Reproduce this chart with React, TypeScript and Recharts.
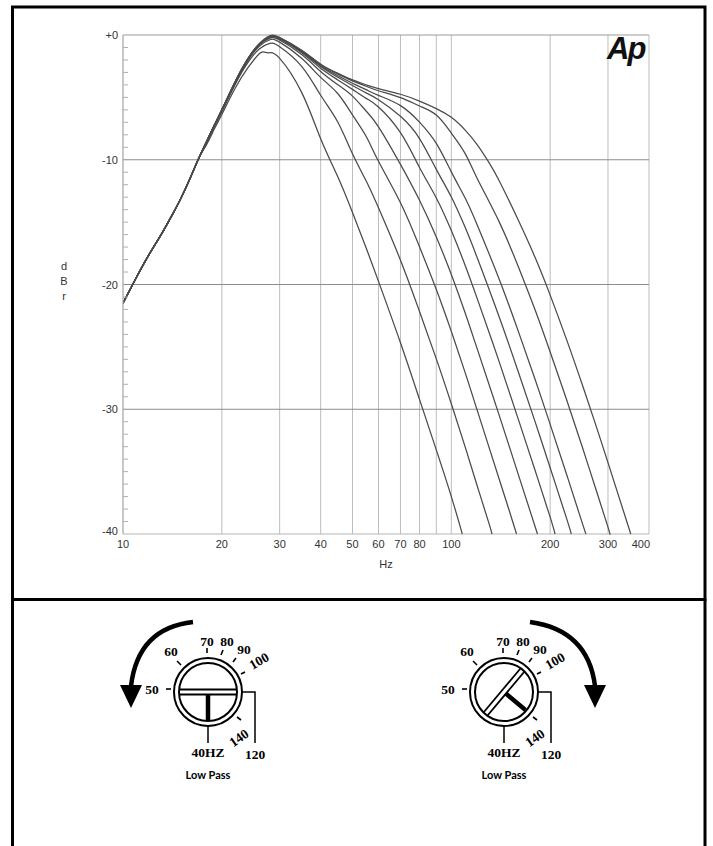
import { LineChart, Line, XAxis, YAxis, CartesianGrid, ReferenceLine, Label } from "recharts"

// shared rising slope below ~18 Hz (all settings overlap here)
const RISE: [number, number][] = [
  [10, -21.5], [11, -19.4], [12, -17.6], [13, -16.1], [14, -14.6], [15, -13.1], [16, -11.5], [17, -9.9],
]

// [Hz, dBr] per low pass setting
const LP_40: [number, number][] = [
  [18, -8.75], [19, -7.5], [20, -6.37], [22, -4.23], [24, -2.64], [26, -1.5], [27, -1.38], [28, -1.42],
  [30, -1.87], [35, -4.6], [40, -8.32], [45, -11.31], [50, -14.23], [55, -17.06], [60, -19.75],
  [70, -24.67], [80, -29.21], [90, -33.26], [100, -37.0], [108, -40],
]
const LP_50: [number, number][] = [
  [18, -8.6], [19, -7.3], [20, -6.15], [22, -3.92], [24, -2.21], [26, -1.13], [28, -0.67], [30, -0.94],
  [35, -2.51], [40, -4.83], [45, -6.94], [50, -9.52], [55, -11.68], [60, -13.85], [70, -18.05],
  [80, -22.16], [90, -25.96], [100, -29.56], [110, -32.96], [120, -36.17], [130, -39.09], [133, -40],
]
const LP_60: [number, number][] = [
  [18, -8.55], [19, -7.25], [20, -6.07], [22, -3.81], [24, -2.05], [26, -0.91], [28, -0.38], [30, -0.57],
  [35, -1.87], [40, -3.4], [45, -4.67], [50, -6.4], [55, -8.12], [60, -10.12], [70, -13.45],
  [80, -16.98], [90, -20.4], [100, -23.76], [110, -27.0], [120, -30.11], [140, -35.63], [150, -38.1],
  [158, -40],
]
const LP_70: [number, number][] = [
  [18, -8.5], [19, -7.2], [20, -6.04], [22, -3.76], [24, -1.98], [26, -0.81], [28, -0.25], [30, -0.4],
  [35, -1.57], [40, -2.92], [45, -3.96], [50, -4.9], [55, -6.09], [60, -7.36], [70, -10.37],
  [80, -13.25], [90, -16.19], [100, -19.2], [110, -22.22], [120, -25.18], [140, -30.51], [160, -35.24],
  [183, -40],
]
const LP_80: [number, number][] = [
  [18, -8.5], [19, -7.2], [20, -6.02], [22, -3.73], [24, -1.95], [26, -0.77], [28, -0.19], [30, -0.32],
  [35, -1.42], [40, -2.67], [45, -3.58], [50, -4.36], [55, -5.08], [60, -5.77], [70, -7.83],
  [80, -10.62], [90, -13.06], [100, -15.68], [110, -18.41], [120, -21.15], [140, -26.22], [160, -30.81],
  [180, -34.91], [200, -38.65], [207, -40],
]
const LP_90: [number, number][] = [
  [18, -8.5], [19, -7.2], [20, -6.0], [22, -3.72], [24, -1.93], [26, -0.74], [28, -0.16], [30, -0.27],
  [35, -1.34], [40, -2.53], [45, -3.37], [50, -4.05], [55, -4.64], [60, -5.19], [70, -6.52],
  [80, -8.3], [90, -10.77], [100, -12.99], [110, -15.38], [120, -17.88], [140, -22.63], [160, -27.02],
  [180, -31.01], [200, -34.69], [225, -38.85], [232, -40],
]
const LP_100: [number, number][] = [
  [18, -8.5], [19, -7.2], [20, -6.0], [22, -3.7], [24, -1.92], [26, -0.73], [28, -0.14], [30, -0.25],
  [35, -1.29], [40, -2.45], [45, -3.25], [50, -3.87], [55, -4.38], [60, -4.84], [70, -5.66],
  [80, -6.98], [90, -8.69], [100, -10.97], [110, -13.03], [120, -15.25], [140, -19.6], [160, -23.76],
  [180, -27.61], [200, -31.21], [225, -35.31], [250, -39.05], [257, -40],
]
const LP_120: [number, number][] = [
  [18, -8.5], [19, -7.2], [20, -6.0], [22, -3.7], [24, -1.91], [26, -0.72], [28, -0.12], [30, -0.22],
  [35, -1.24], [40, -2.37], [45, -3.12], [50, -3.68], [55, -4.11], [60, -4.47], [70, -5.02],
  [80, -5.69], [90, -6.42], [100, -7.86], [110, -9.47], [120, -11.52], [140, -15.0], [160, -18.58],
  [180, -22.05], [200, -25.41], [225, -29.32], [250, -32.95], [275, -36.33], [300, -39.45], [304, -40],
]
const LP_140: [number, number][] = [
  [18, -8.5], [19, -7.2], [20, -6.0], [22, -3.7], [24, -1.9], [26, -0.7], [28, -0.07], [30, -0.21],
  [35, -1.22], [40, -2.34], [45, -3.06], [50, -3.6], [55, -3.99], [60, -4.3], [70, -4.75],
  [80, -5.3], [90, -5.9], [100, -6.6], [110, -7.6], [120, -8.8], [130, -10.19], [140, -11.7],
  [160, -14.85], [180, -17.84], [200, -20.85], [225, -24.5], [250, -27.96], [275, -31.21], [300, -34.28],
  [352, -40],
]

const SETTINGS = [40, 50, 60, 70, 80, 90, 100, 120, 140]
const CURVES = [LP_40, LP_50, LP_60, LP_70, LP_80, LP_90, LP_100, LP_120, LP_140]

const X_TICKS = [10, 20, 30, 40, 50, 60, 70, 80, 90, 100, 200, 300, 400]
const Y_MAJOR = [0, -10, -20, -30, -40]
const Y_MINOR = Array.from({ length: 41 }, (_, i) => -i)

// dial scale around each knob, relative to the knob centre
const DIAL_TICKS: [number, number, number, number][] = [
  [-42, -3, -37, -3], [-27, -27, -31, -31], [-1, -39, -1, -44], [13, -37, 15, -42],
  [25, -30, 28, -34], [33, -18, 37, -20], [29, 25, 33, 28],
]
const DIAL_LABELS: [string, number, number, number][] = [
  ["50", -56, -3, 0], ["60", -37, -41, 0], ["70", -1, -51, 0], ["80", 19, -51, 0],
  ["90", 36, -43, 0], ["100", 51, -31, -30], ["140", 31, 46, -35], ["120", 47, 62, 0], ["40HZ", 0, 60, 0],
]

const SANS = "'Liberation Sans', Arial, sans-serif"
const SERIF = "'Liberation Serif', 'DejaVu Serif', serif"
const INK = "#4a4a4a"

function XTick({ x, y, payload }: any) {
  const v = payload.value
  if (v === 90) return <g />
  const last = v === 400
  return (
    <text x={last ? x + 1 : x} y={y} dy={10} textAnchor={last ? "end" : "middle"}
      fontSize={11} fill="#333" fontFamily={SANS}>{v}</text>
  )
}

function YTick({ x, y, payload }: any) {
  const v = payload.value
  const major = v % 10 === 0
  return (
    <g>
      {!major && <line x1={x + 5} x2={x + 10} y1={y} y2={y} stroke="#b0b0b0" />}
      {major && (
        <text x={x} y={v === -40 ? y - 3 : y} dy={4} textAnchor="end" fontSize={11} fill="#333" fontFamily={SANS}>
          {v === 0 ? "+0" : v}
        </text>
      )}
    </g>
  )
}

function DbrLabel({ viewBox }: any) {
  const cx = viewBox.x + 64
  const cy = viewBox.y + viewBox.height / 2
  return (
    <text x={cx} y={cy - 15} textAnchor="middle" fontSize={11} fill="#333" fontFamily={SANS}>
      <tspan x={cx} dy={0}>d</tspan>
      <tspan x={cx} dy={15}>B</tspan>
      <tspan x={cx} dy={15}>r</tspan>
    </text>
  )
}

function Knob({ cx, cy, turn, arc, head }: { cx: number; cy: number; turn: number; arc: string; head: string }) {
  const half = Math.sqrt(29 * 29 - 2.5 * 2.5)
  return (
    <g>
      <g transform={`translate(${cx} ${cy})`}>
        <path d={arc} fill="none" stroke="#000" strokeWidth={4.5} />
        <polygon points={head} fill="#000" />
      </g>
      {DIAL_TICKS.map(([x1, y1, x2, y2], i) => (
        <line key={i} x1={cx + x1} y1={cy + y1} x2={cx + x2} y2={cy + y2} stroke="#000" strokeWidth={1.6} />
      ))}
      <polyline points={`${cx + 34},${cy} ${cx + 47},${cy} ${cx + 47},${cy + 51}`} fill="none" stroke="#000" strokeWidth={1.5} />
      <line x1={cx} y1={cy + 34} x2={cx} y2={cy + 51} stroke="#000" strokeWidth={1.5} />
      <circle cx={cx} cy={cy} r={34} fill="#fff" stroke="#000" strokeWidth={2} />
      <circle cx={cx} cy={cy} r={29} fill="none" stroke="#000" strokeWidth={2} />
      <g transform={`rotate(${turn} ${cx} ${cy})`}>
        <line x1={cx - half} y1={cy - 2.5} x2={cx + half} y2={cy - 2.5} stroke="#000" strokeWidth={1.8} />
        <line x1={cx - half} y1={cy + 2.5} x2={cx + half} y2={cy + 2.5} stroke="#000" strokeWidth={1.8} />
        <line x1={cx} y1={cy + 2.5} x2={cx} y2={cy + 28} stroke="#000" strokeWidth={4.5} />
      </g>
      {DIAL_LABELS.map(([t, dx, dy, rot]) => (
        <text key={t} x={cx + dx} y={cy + dy} textAnchor="middle" dominantBaseline="central"
          transform={rot ? `rotate(${rot} ${cx + dx} ${cy + dy})` : undefined}
          fontFamily={SERIF} fontWeight="bold" fontSize={13.5} fill="#000">{t}</text>
      ))}
      <text x={cx} y={cy + 82} textAnchor="middle" dominantBaseline="central"
        fontFamily="Lato, 'Open Sans', sans-serif" fontWeight="bold" fontSize={11} fill="#000">Low Pass</text>
    </g>
  )
}

export default function App() {
  return (
    <div style={{ position: "absolute", left: 0, top: 0, width: 713, height: 846, background: "#fff", overflow: "hidden" }}>
      <div style={{ position: "absolute", left: 0, top: 0 }}>
        <LineChart width={713} height={600} margin={{ top: 35, right: 64, bottom: 36, left: 0 }}>
          <CartesianGrid vertical horizontal={false} stroke="#bdbdbd" />
          <XAxis type="number" dataKey="hz" scale="log" domain={[10, 400]} ticks={X_TICKS} interval={0}
            allowDataOverflow tick={<XTick />} tickLine={false} tickSize={0} tickMargin={4}
            axisLine={false} height={30}>
            <Label value="Hz" position="insideBottom" offset={-4} fontSize={11} fill="#333" fontFamily={SANS} />
          </XAxis>
          <YAxis type="number" domain={[-40, 0]} ticks={Y_MINOR} interval={0} width={123}
            tick={<YTick />} tickLine={false} tickSize={0} tickMargin={5}
            axisLine={{ stroke: "#b0b0b0" }}>
            <Label content={<DbrLabel />} />
          </YAxis>
          {Y_MAJOR.map((v) => (
            <ReferenceLine key={v} y={v} stroke={v === 0 ? "#9a9a9a" : v === -40 ? "#b5b5b5" : "#8c8c8c"} strokeWidth={1} />
          ))}
          {CURVES.map((c, i) => (
            <Line key={SETTINGS[i]} name={`${SETTINGS[i]} Hz`}
              data={[...RISE, ...c].map(([hz, db]) => ({ hz, db }))}
              dataKey="db" type="natural" stroke={INK} strokeWidth={1.25}
              dot={false} isAnimationActive={false} />
          ))}
        </LineChart>
      </div>
      <svg width={713} height={846} style={{ position: "absolute", left: 0, top: 0, pointerEvents: "none" }}>
        <text x={607} y={59} fontFamily={SANS} fontWeight="bold" fontStyle="italic" fontSize={31}
          letterSpacing={-2} fill="#111">Ap</text>
        <rect x={12.5} y={7} width={692.5} height={592.5} fill="none" stroke="#000" strokeWidth={3} />
        <line x1={12.5} y1={599} x2={12.5} y2={846} stroke="#000" strokeWidth={3} />
        <line x1={705} y1={599} x2={705} y2={846} stroke="#000" strokeWidth={3} />
        <Knob cx={208} cy={692} turn={0}
          arc="M -15 -70 Q -70 -64 -77 -6" head="-88,-7 -66,-7 -77,16" />
        <Knob cx={504} cy={692} turn={-50}
          arc="M 26 -70 Q 84 -62 91 -6" head="80,-7 102,-7 91,16" />
      </svg>
    </div>
  )
}
